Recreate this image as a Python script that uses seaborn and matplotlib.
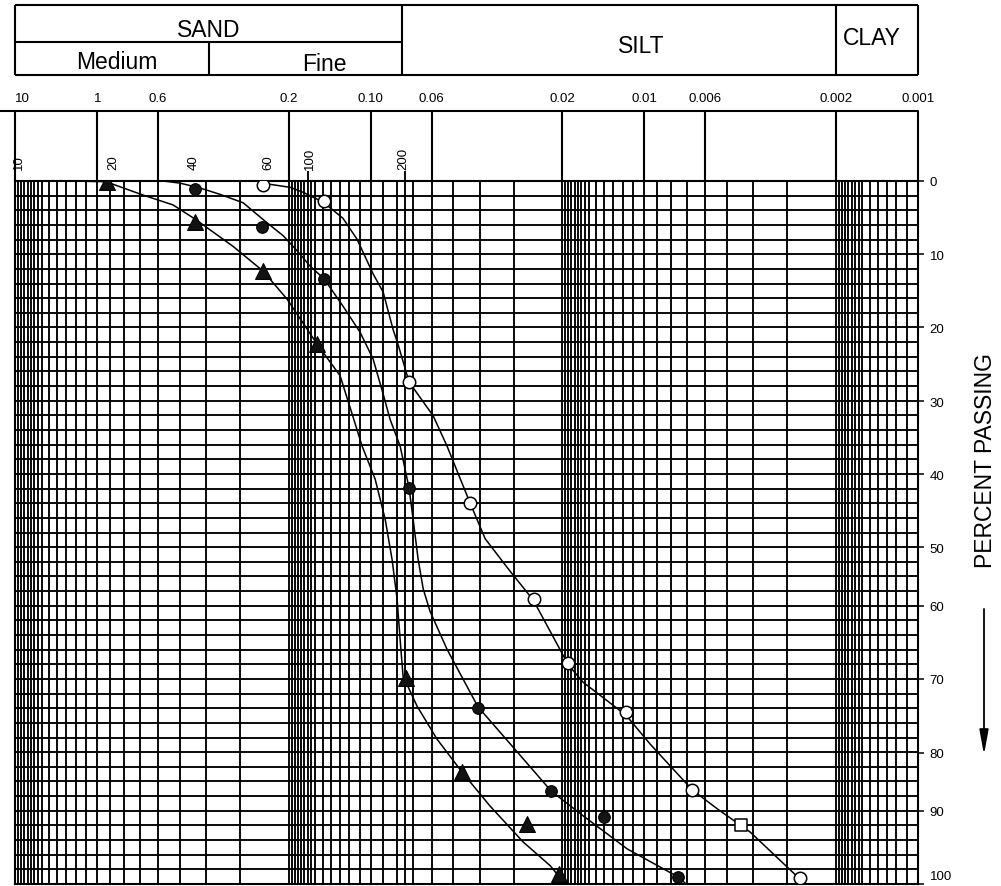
import numpy as np
import matplotlib
matplotlib.use("Agg")
import matplotlib.pyplot as plt
from matplotlib.ticker import FixedLocator, NullLocator, NullFormatter
from matplotlib.transforms import blended_transform_factory, ScaledTranslation
import seaborn as sns

# ---------------- data (grain size in mm, percent) ----------------
size_ticks = [2.0, 1.0, 0.6, 0.2, 0.1, 0.06, 0.02, 0.01, 0.006, 0.002, 0.001]
size_labels = ["10", "1", "0.6", "0.2", "0.10", "0.06", "0.02", "0.01", "0.006", "0.002", "0.001"]

sieve_pos = [1.934, 0.877, 0.443, 0.238, 0.167, 0.0763]
sieve_labels = ["10", "20", "40", "60", "100", "200"]
sieve_lines = [0.17, 0.075]

pct_pos = [0, 10.4, 20.8, 31.3, 41.7, 52.1, 60.4, 70.8, 81.3, 89.6, 100]
pct_labels = ["0", "10", "20", "30", "40", "50", "60", "70", "80", "90", "100"]

# soil classes (header)
sand_limits = [2.0, 0.077]
medium_fine_limit = 0.39
clay_limit = 0.002
class_names = ["SAND", "Medium", "Fine", "SILT", "CLAY"]
class_pos = [0.392, 0.85, 0.148, 0.0103, 0.00147]

# sample A (open circles)
a_curve_d = [0.250, 0.1975, 0.177, 0.1496, 0.1265, 0.1123, 0.0982, 0.0902, 0.0830, 0.0795,
             0.0725, 0.0592, 0.0527, 0.0434, 0.0382, 0.0310, 0.0255, 0.0190, 0.01676, 0.01167,
             0.00953, 0.00669, 0.00542, 0.00411, 0.00277, 0.00259]
a_curve_p = [0.3, 0.9, 1.6, 3.0, 5.3, 8.3, 13.2, 15.8, 21.1, 23.3,
             28.6, 33.4, 37.7, 45.8, 50.9, 55.5, 59.6, 68.8, 71.3, 76.0,
             80.1, 86.6, 89.3, 92.6, 98.9, 100]
a_pts_d = [0.247, 0.149, 0.0723, 0.0434, 0.0253, 0.0190, 0.0117, 0.00671, 0.00271]
a_pts_p = [0.6, 2.9, 28.6, 45.8, 59.5, 68.6, 75.6, 86.6, 99.1]
sq_pts_d = [0.00443]
sq_pts_p = [91.6]

# sample B (filled circles)
b_curve_d = [0.575, 0.499, 0.421, 0.356, 0.293, 0.244, 0.209, 0.1815, 0.1669, 0.1484,
             0.1265, 0.1096, 0.0982, 0.0902, 0.0851, 0.0782, 0.0750, 0.0725, 0.0701, 0.0672,
             0.0644, 0.0608, 0.0527, 0.0406, 0.0292, 0.0219, 0.01676, 0.01157, 0.00753, 0.00704]
b_curve_p = [0.0, 0.3, 1.0, 1.9, 3.1, 5.7, 7.8, 10.4, 12.1, 13.9,
             17.8, 21.5, 25.3, 30.3, 33.9, 37.7, 41.0, 43.7, 48.1, 53.8,
             58.0, 61.2, 66.6, 74.8, 81.2, 86.8, 90.3, 95.0, 99.0, 100]
b_pts_d = [0.440, 0.251, 0.148, 0.0723, 0.0405, 0.0220, 0.0141, 0.00752]
b_pts_p = [1.2, 6.6, 13.9, 43.7, 74.9, 86.7, 90.5, 99.0]

# sample C (filled triangles)
c_curve_d = [1.238, 0.930, 0.681, 0.529, 0.440, 0.319, 0.248, 0.2025, 0.1573, 0.1296,
             0.1172, 0.1077, 0.0965, 0.0887, 0.0837, 0.0802, 0.0782, 0.0763, 0.0678, 0.0573,
             0.0464, 0.0367, 0.0278, 0.0221, 0.0195]
c_curve_p = [0.0, 0.1, 2.0, 3.4, 5.4, 9.3, 12.8, 16.8, 23.2, 27.7,
             33.1, 37.7, 42.4, 48.1, 53.8, 59.5, 65.2, 70.4, 74.7, 79.4,
             84.1, 88.9, 94.0, 97.4, 100]
c_pts_d = [0.925, 0.440, 0.247, 0.158, 0.0744, 0.0466, 0.0268, 0.0205]
c_pts_p = [0.2, 5.8, 12.8, 23.2, 70.7, 84.0, 91.5, 98.6]

# ---------------- style ----------------
sns.set_theme(style="white")
plt.rcParams["font.family"] = ["Liberation Sans", "DejaVu Sans"]

W, H = 1001, 887
fig = plt.figure(figsize=(W / 100, H / 100), dpi=100)
ax = fig.add_axes([15 / W, 2 / H, 903 / W, 703 / H])
hax = fig.add_axes([15 / W, (H - 182) / H, 903 / W, 182 / H])

GRID_LW = 1.35
XMAX, XMIN = 2.0, 0.001

# ---------------- main chart ----------------
ax.set_xscale("log")
ax.set_xlim(XMAX, XMIN)
ax.set_ylim(100, 0)

grid_steps = list(range(2, 21)) + [16.5, 17.5, 18.5, 19.5]
grid_x = sorted({round(n * dec, 7) for dec in [0.1, 0.01, 0.001, 0.0001] for n in grid_steps
                 if XMIN <= n * dec <= XMAX} | set(sieve_lines))
grid_y = np.linspace(0, 100, 49)

ax.xaxis.set_major_locator(NullLocator())
ax.xaxis.set_major_formatter(NullFormatter())
ax.xaxis.set_minor_locator(FixedLocator(grid_x))
ax.xaxis.set_minor_formatter(NullFormatter())
ax.yaxis.set_minor_locator(FixedLocator(grid_y))
# last label drawn separately (lifted slightly so it stays inside the canvas)
ax.set_yticks(pct_pos, pct_labels[:-1] + [""])
ax.yaxis.tick_right()
ax.tick_params(axis="y", which="major", length=4.5, width=1.1, pad=4,
               labelsize=9.5, colors="black", right=True, left=False, direction="out")
ax.tick_params(axis="both", which="minor", length=0)
ax.tick_params(axis="x", which="both", length=0)
ax.grid(True, which="minor", color="black", lw=GRID_LW)
ax.grid(False, which="major")
ax.set_axisbelow(True)
for s in ax.spines.values():
    s.set_color("black")
    s.set_linewidth(1.5)

lab_trans = blended_transform_factory(ax.transAxes, ax.transData) + \
    ScaledTranslation(8.5 / 72, 3.5 / 72, fig.dpi_scale_trans)
ax.text(1.0, pct_pos[-1], pct_labels[-1], transform=lab_trans, ha="left",
        va="baseline", fontsize=9.5, color="black")

for cd, cp in [(a_curve_d, a_curve_p), (b_curve_d, b_curve_p), (c_curve_d, c_curve_p)]:
    sns.lineplot(x=cd, y=cp, ax=ax, color="black", lw=1.1, sort=False,
                 estimator=None, zorder=3, solid_joinstyle="round")

sns.scatterplot(x=a_pts_d, y=a_pts_p, ax=ax, marker="o", s=80, color="white",
                edgecolor="black", linewidth=1.1, zorder=4)
sns.scatterplot(x=sq_pts_d, y=sq_pts_p, ax=ax, marker="s", s=65, color="white",
                edgecolor="black", linewidth=1.1, zorder=4)
sns.scatterplot(x=b_pts_d, y=b_pts_p, ax=ax, marker="o", s=70, color="#151515",
                edgecolor="black", linewidth=0.8, zorder=4)
sns.scatterplot(x=c_pts_d, y=c_pts_p, ax=ax, marker="^", s=130, color="#111111",
                edgecolor="black", linewidth=0.8, zorder=4)
ax.set_xlabel("")
ax.set_ylabel("")

# ---------------- header (classification + size scale) ----------------
hax.set_xscale("log")
hax.set_xlim(XMAX, XMIN)
hax.set_ylim(182, 0)
hax.axis("off")
lk = dict(color="black", lw=1.5, clip_on=False)

hax.hlines([6, 76], XMAX, XMIN, **lk)
hax.hlines(43, sand_limits[0], sand_limits[1], **lk)
hax.vlines([XMAX, sand_limits[1], clay_limit, XMIN], 6, 76, **lk)
hax.vlines(medium_fine_limit, 43, 76, **lk)

trans = blended_transform_factory(hax.transAxes, hax.transData)
hax.plot([-15 / 903, 1], [112, 112], transform=trans, **lk)
hax.vlines(size_ticks, 112, 182, **lk)
hax.vlines(sieve_lines, 172, 182, color="black", lw=GRID_LW, clip_on=False)

for i, (xv, lab) in enumerate(zip(size_ticks, size_labels)):
    hax.text(xv, 102, lab, ha="left" if i == 0 else "center", va="baseline",
             fontsize=9.5, color="black")

for xv, lab in zip(sieve_pos, sieve_labels):
    hax.text(xv, 170, lab, rotation=90, ha="center", va="bottom",
             fontsize=9.5, color="black")

class_base = [37, 69, 71, 53, 45]
for xv, yb, lab in zip(class_pos, class_base, class_names):
    hax.text(xv, yb, lab, ha="center", va="baseline", fontsize=16.5, color="black")

# ---------------- right-hand label and arrow ----------------
fig.text(985 / W, 1 - 460 / H, "PERCENT PASSING", rotation=90, ha="center",
         va="center", fontsize=16.5, color="black")
ax.annotate("", xy=(984 / W, 1 - 756 / H), xytext=(984 / W, 1 - 610 / H),
            xycoords="figure fraction", textcoords="figure fraction",
            arrowprops=dict(arrowstyle="-|>,head_length=1.0,head_width=0.18",
                            color="black", lw=1.3, mutation_scale=15,
                            shrinkA=0, shrinkB=0))

fig.savefig("out.png", dpi=100)
